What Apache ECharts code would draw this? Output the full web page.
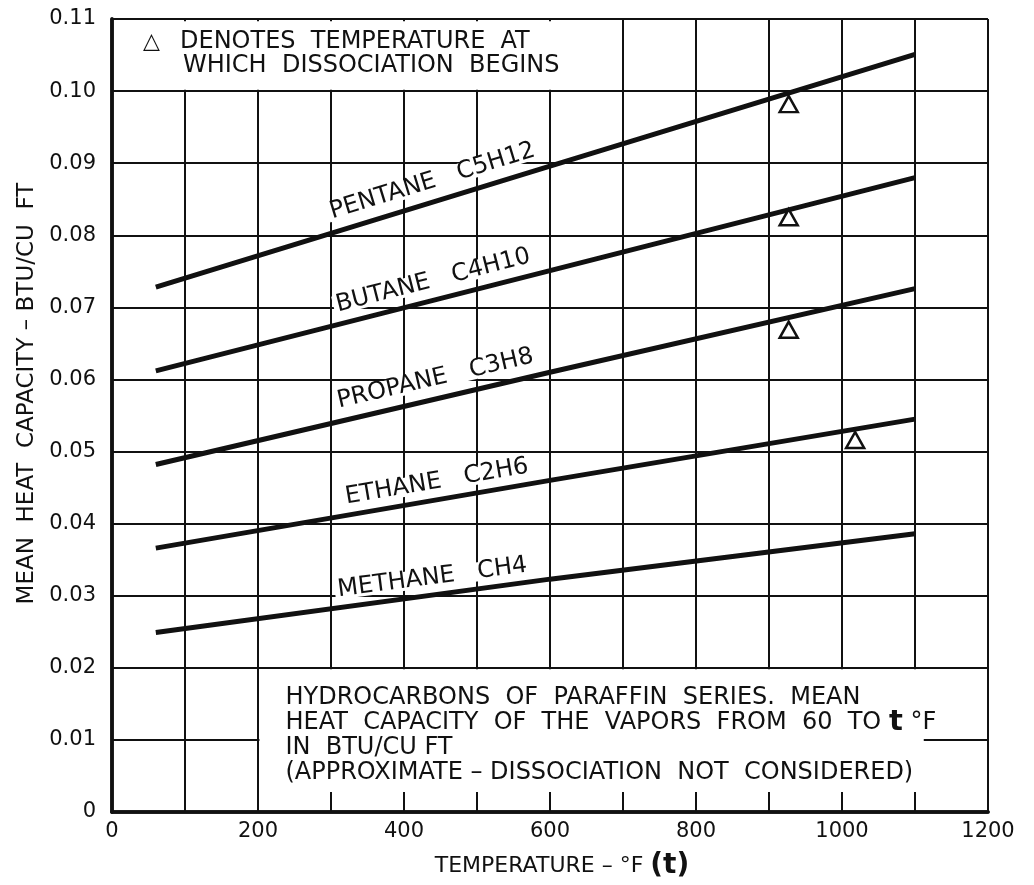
<!DOCTYPE html>
<html><head><meta charset="utf-8">
<script src="https://cdn.jsdelivr.net/npm/echarts@6/dist/echarts.min.js"></script>
<style>html,body{margin:0;padding:0;background:#fff}#c{width:1034px;height:885px}</style>
</head><body><div id="c"></div>
<script>
// ---- data ----
const temps = [60, 600, 1100];                    // °F
const pentane = [0.0728, 0.0896, 0.1051];
const butane  = [0.0612, 0.0751, 0.0880];
const propane = [0.0482, 0.0610, 0.0726];
const ethane  = [0.0366, 0.0460, 0.0545];
const methane = [0.0249, 0.0323, 0.0386];
const gasNames = ['PENTANE   C5H12', 'BUTANE   C4H10', 'PROPANE   C3H8', 'ETHANE   C2H6', 'METHANE   CH4'];
const labelTemps  = [439, 440, 443, 445, 439];
const labelValues = [0.0875, 0.0737, 0.0601, 0.0458, 0.0325];
const dissocTemps  = [927, 927, 927, 1018];
const dissocValues = [0.0982, 0.0825, 0.0669, 0.0516];
const xMin = 0, xMax = 1200, xStep = 100;
const yMin = 0, yMax = 0.11, yStep = 0.01;
const xTickLabels = [0, 200, 400, 600, 800, 1000, 1200];

const gasValues = [pentane, butane, propane, ethane, methane];
const FONT = 'DejaVu Sans';
const INK = '#111';

const chart = echarts.init(document.getElementById('c'), null, {renderer: 'canvas'});

function baseX(extra) {
  return Object.assign({type: 'value', min: xMin, max: xMax, interval: xStep,
    axisLine: {show: false}, axisTick: {show: false}, axisLabel: {show: false}, splitLine: {show: false}}, extra);
}
function baseY(extra) {
  return Object.assign({type: 'value', min: yMin, max: yMax, interval: yStep,
    axisLine: {show: false}, axisTick: {show: false}, axisLabel: {show: false}, splitLine: {show: false}}, extra);
}

const option = {
  backgroundColor: '#fff',
  animation: false,
  grid: {left: 112, right: 46, top: 19, bottom: 69, show: false},
  xAxis: [
    baseX({z: 0, splitLine: {show: true, lineStyle: {color: INK, width: 2}}}),
    baseX({z: 5, position: 'bottom',
      axisLine: {show: true, lineStyle: {color: INK, width: 3.5}},
      axisTick: {show: true, inside: true, length: 20, lineStyle: {color: INK, width: 2}},
      axisLabel: {show: true, margin: 9, color: INK, fontFamily: FONT, fontSize: 21,
        formatter: v => xTickLabels.indexOf(v) >= 0 ? String(v) : ''},
      name: 'TEMPERATURE – °F {t|(t)}', nameLocation: 'middle', nameGap: 40,
      nameTextStyle: {color: INK, fontFamily: FONT, fontSize: 22, padding: [0, 0, 0, 24],
        rich: {t: {fontFamily: FONT, fontSize: 28, fontWeight: 'bold', color: INK}}}
    }),
    baseX({z: 5, position: 'top', axisLine: {show: true, lineStyle: {color: INK, width: 3.5}}})
  ],
  yAxis: [
    baseY({z: 0, splitLine: {show: true, lineStyle: {color: INK, width: 2}}}),
    baseY({z: 5, position: 'left',
      axisLine: {show: true, lineStyle: {color: INK, width: 3.5}},
      axisLabel: {show: true, margin: 16, color: INK, fontFamily: FONT, fontSize: 21,
        formatter: v => v === 0 ? '0' : v.toFixed(2)},
      name: 'MEAN  HEAT  CAPACITY – BTU/CU  FT', nameLocation: 'middle', nameGap: 71, nameRotate: 90,
      nameTextStyle: {color: INK, fontFamily: FONT, fontSize: 23, padding: [0, 0, 0, 44]}
    }),
    baseY({z: 5, position: 'right', axisLine: {show: true, lineStyle: {color: INK, width: 3.5}}})
  ],
  series: []
};

gasValues.forEach((vals, i) => {
  option.series.push({
    type: 'line', name: gasNames[i], xAxisIndex: 0, yAxisIndex: 0, z: 3,
    data: temps.map((t, k) => [t, vals[k]]),
    symbol: 'none', lineStyle: {color: INK, width: 5}
  });
});

option.series.push({
  type: 'scatter', name: 'dissociation', xAxisIndex: 0, yAxisIndex: 0, z: 4,
  data: dissocTemps.map((t, k) => [t, dissocValues[k]]),
  symbol: 'triangle', symbolSize: [18, 16],
  itemStyle: {color: '#fff', borderColor: INK, borderWidth: 2.5, opacity: 1}
});

const labelStyle = {show: true, position: 'inside', color: INK, fontFamily: FONT, fontSize: 24,
  lineHeight: 19, backgroundColor: '#fff', padding: [0, 3], opacity: 1, textBorderWidth: 0};

option.series.push({
  type: 'scatter', name: 'labels', xAxisIndex: 0, yAxisIndex: 0, z: 2,
  symbolSize: 0, silent: true,
  itemStyle: {opacity: 1},
  data: labelTemps.map((t, k) => ({value: [t, labelValues[k]], label: Object.assign({}, labelStyle, {formatter: gasNames[k], rotate: 0})})),
  label: labelStyle,
  markArea: {
    silent: true,
    itemStyle: {color: '#fff', borderWidth: 0, opacity: 1},
    data: [
      [{coord: [0, 0.1002],
        label: {show: true, position: [31, 9], color: INK, fontFamily: FONT, fontSize: 24, lineHeight: 24,
          formatter: '{tri|△}{a|DENOTES  TEMPERATURE  AT}\n{pad|}{a|WHICH  DISSOCIATION  BEGINS}',
          rich: {tri: {width: 37, fontSize: 22, fontFamily: FONT, color: INK, lineHeight: 24},
                 pad: {width: 40, lineHeight: 24},
                 a: {fontSize: 24, fontFamily: FONT, color: INK, lineHeight: 24}}}},
       {coord: [698, 0.1097]}],
      [{coord: [202, 0.0003],
        label: {show: true, position: [26, 16], color: INK, fontFamily: FONT, fontSize: 24, lineHeight: 25,
          formatter: '{a|HYDROCARBONS  OF  PARAFFIN  SERIES.  MEAN}\n{a|HEAT  CAPACITY  OF  THE  VAPORS  FROM  60  TO }{t|t}{a| °F}\n{a|IN  BTU/CU FT}\n{a|(APPROXIMATE – DISSOCIATION  NOT  CONSIDERED)}',
          rich: {a: {fontSize: 24, fontFamily: FONT, color: INK, lineHeight: 25},
                 t: {fontSize: 29, fontFamily: FONT, fontWeight: 'bold', color: INK, lineHeight: 25}}}},
       {coord: [1112, 0.0198]}]
    ]
  }
});

chart.setOption(option);

// rotate the line labels to follow each line's on-screen slope
const rotated = labelTemps.map((t, k) => {
  const vals = gasValues[k];
  const p0 = chart.convertToPixel({xAxisIndex: 0, yAxisIndex: 0}, [temps[0], vals[0]]);
  const p1 = chart.convertToPixel({xAxisIndex: 0, yAxisIndex: 0}, [temps[temps.length - 1], vals[vals.length - 1]]);
  const ang = Math.atan2(p0[1] - p1[1], p1[0] - p0[0]) * 180 / Math.PI;
  return {value: [t, labelValues[k]], label: Object.assign({}, labelStyle, {formatter: gasNames[k], rotate: ang})};
});
const idx = option.series.length - 1;
option.series[idx].data = rotated;
chart.setOption({series: option.series});
</script>
</body></html>
